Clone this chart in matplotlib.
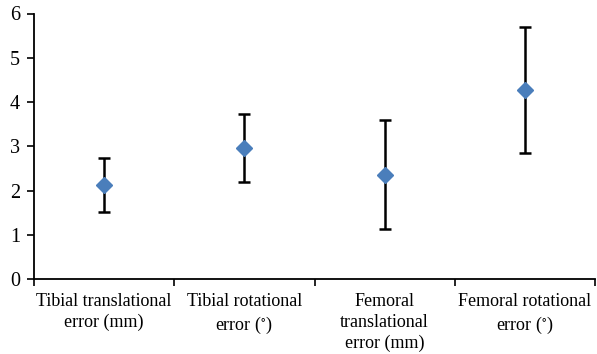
import matplotlib
matplotlib.use('Agg')
from matplotlib import pyplot as plt
import numpy as np

categories = ['Tibial translational\nerror (mm)', 'Tibial rotational\nerror ($^{\\circ}$)',
              'Femoral\ntranslational\nerror (mm)', 'Femoral rotational\nerror ($^{\\circ}$)']
means = [2.12, 2.97, 2.35, 4.26]
lower = [1.52, 2.19, 1.12, 2.84]
upper = [2.73, 3.74, 3.59, 5.70]

plt.rcParams['font.family'] = ['Liberation Serif', 'DejaVu Serif']
plt.rcParams['mathtext.fontset'] = 'stix'

fig = plt.figure(figsize=(5.97, 3.54), dpi=100)
ax = fig.add_axes([34 / 597, 1 - 279 / 354, 561 / 597, (279 - 13.5) / 354])

x = np.arange(len(means))
yerr = [np.array(means) - np.array(lower), np.array(upper) - np.array(means)]
ax.errorbar(x, means, yerr=yerr, fmt='D', color='#4a7ebb', markersize=8,
            ecolor='black', elinewidth=1.8, capsize=4, capthick=1.8, zorder=3)

ax.set_xlim(-0.5, len(means) - 0.5)
ax.set_ylim(0, 6)
ax.set_yticks(range(7))
ax.set_xticks(np.arange(len(means) + 1) - 0.5)
ax.set_xticklabels([])
ax.set_xticks(x, minor=True)
ax.set_xticklabels(categories, minor=True, fontsize=13, linespacing=1.3)
ax.tick_params(axis='x', which='minor', length=0, pad=10)
ax.tick_params(axis='x', which='major', length=5, width=1.2, direction='out')
ax.tick_params(axis='y', length=5, width=1.2, labelsize=14.5, pad=5)

for s in ['top', 'right']:
    ax.spines[s].set_visible(False)
for s in ['left', 'bottom']:
    ax.spines[s].set_linewidth(1.3)

fig.savefig('out.png', dpi=100)
